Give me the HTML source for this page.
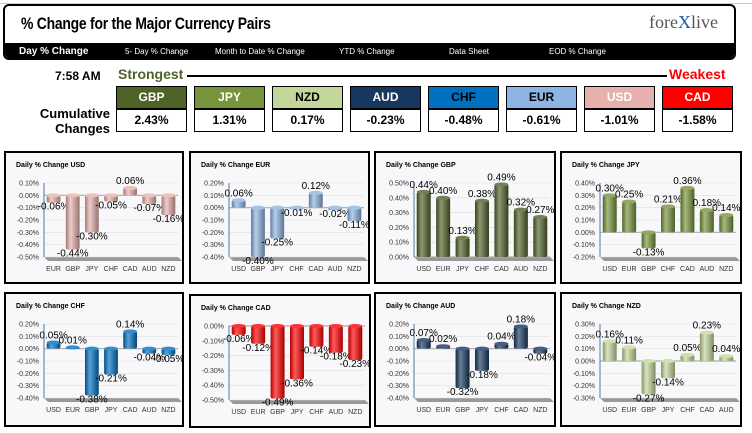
<!DOCTYPE html>
<html><head><meta charset="utf-8">
<style>
body{margin:0;width:752px;height:433px;background:#fff;position:relative;overflow:hidden;font-family:"Liberation Sans",sans-serif}
.abs{position:absolute}
.hdr{left:3px;top:4px;width:733px;height:56px;border:2px solid #000;border-radius:6px;box-sizing:border-box;overflow:hidden}
.title{left:16px;top:8px;font-weight:bold;font-size:17px;transform:scaleX(0.82);transform-origin:left;letter-spacing:-0.3px}
.bar{left:0;top:37px;width:100%;height:17px;background:#000;color:#fff;font-size:8px}
.bar span{position:absolute;top:4px}
.box{width:71px;height:23px;border:1px solid #000;box-sizing:border-box;text-align:center;font-weight:bold;font-size:12px;line-height:21px}
.val{background:#fff;color:#000}
.panel{border:2px solid #000;box-sizing:border-box;background:#f8f8fa}
</style></head><body>
<div class="abs" style="left:0;top:0;width:752px;height:3px;border-bottom:1px solid #ccc"></div>
<div class="abs hdr">
 <div class="abs title">% Change for the Major Currency Pairs</div>
 <div class="abs" style="left:644px;top:6px;font-family:'Liberation Serif',serif;font-size:18px;color:#555">fore<span style="color:#1a5fa0">X</span>live</div>
 <div class="abs bar">
  <span style="left:14px;top:3px;font-size:10px;font-weight:bold">Day % Change</span>
  <span style="left:120px">5- Day % Change</span>
  <span style="left:210px">Month to Date % Change</span>
  <span style="left:334px">YTD % Change</span>
  <span style="left:444px">Data Sheet</span>
  <span style="left:544px">EOD % Change</span>
 </div>
</div>
<div class="abs" style="left:55px;top:69px;font-weight:bold;font-size:12px">7:58 AM</div>
<div class="abs" style="left:118px;top:66px;font-weight:bold;font-size:14px;color:#4f6228">Strongest</div>
<div class="abs" style="left:187px;top:75px;width:480px;height:2px;background:#000"></div>
<div class="abs" style="left:669px;top:66px;font-weight:bold;font-size:14px;color:#f00">Weakest</div>
<div class="abs" style="left:28px;top:106px;font-weight:bold;font-size:13px;text-align:right;width:82px;line-height:15px">Cumulative Changes</div>
<div id="boxes"></div>
<div id="charts"></div>
<script>
const boxCur=["GBP","JPY","NZD","AUD","CHF","EUR","USD","CAD"];
const boxVal=["2.43%","1.31%","0.17%","-0.23%","-0.48%","-0.61%","-1.01%","-1.58%"];
const boxBg=["#4f6228","#77933c","#c4d79b","#17375e","#0070c0","#8db4e2","#e6b0ac","#ff0000"];
const boxFg=["#fff","#fff","#000","#fff","#000","#000","#fff","#fff"];
let bh="";
boxCur.forEach((c,i)=>{const x=116+i*78;
bh+=`<div class="abs box" style="left:${x}px;top:86px;background:${boxBg[i]};color:${boxFg[i]}">${c}</div>`;
bh+=`<div class="abs box val" style="left:${x}px;top:109px">${boxVal[i]}</div>`;});
document.getElementById('boxes').innerHTML=bh;

const names=["USD","EUR","GBP","JPY","CHF","CAD","AUD","NZD"];
const cats=[["EUR","GBP","JPY","CHF","CAD","AUD","NZD"],["USD","GBP","JPY","CHF","CAD","AUD","NZD"],["USD","EUR","JPY","CHF","CAD","AUD","NZD"],["USD","EUR","GBP","CHF","CAD","AUD","NZD"],["USD","EUR","GBP","JPY","CAD","AUD","NZD"],["USD","EUR","GBP","JPY","CHF","AUD","NZD"],["USD","EUR","GBP","JPY","CHF","CAD","NZD"],["USD","EUR","GBP","JPY","CHF","CAD","AUD"]];
const vals=[[-0.06,-0.44,-0.30,-0.05,0.06,-0.07,-0.16],[0.06,-0.40,-0.25,-0.01,0.12,-0.02,-0.11],[0.44,0.40,0.13,0.38,0.49,0.32,0.27],[0.30,0.25,-0.13,0.21,0.36,0.18,0.14],[0.05,0.01,-0.38,-0.21,0.14,-0.04,-0.05],[-0.06,-0.12,-0.49,-0.36,-0.14,-0.18,-0.23],[0.07,0.02,-0.32,-0.18,0.04,0.18,-0.04],[0.16,0.11,-0.27,-0.14,0.05,0.23,0.04]];
const axMin=[-0.5,-0.4,0,-0.2,-0.4,-0.5,-0.4,-0.3];
const axMax=[0.1,0.2,0.5,0.4,0.2,0,0.2,0.3];
const colors=["#e6b0ac","#8db4e2","#4f6228","#77933c","#0070c0","#ff0000","#17375e","#c4d79b"];
const panels=[[4,151,180,133],[189,151,181,133],[374,151,182,133],[560,151,182,133],[4,292,180,135],[189,294,182,134],[374,292,182,135],[560,292,182,135]];
function shade(h,f){let n=parseInt(h.slice(1),16),r=n>>16,g=(n>>8)&255,b=n&255;
 const m=v=>Math.round(f<0?v*(1+f):v+(255-v)*f);return `rgb(${m(r)},${m(g)},${m(b)})`;}
let out="";
names.forEach((nm,k)=>{
 const [px,py,pw,ph]=panels[k];
 const L=38,R=pw-8,T=30,B=104;
 const y=v=>T+(axMax[k]-v)/(axMax[k]-axMin[k])*(B-T);
 const n=cats[k].length, step=(R-L)/n, bw=step*0.72;
 let s=`<svg width="${pw-4}" height="${ph-4}" style="position:absolute;left:0;top:0">`;
 s+=`<defs><linearGradient id="g${k}" x1="0" x2="1"><stop offset="0" stop-color="${shade(colors[k],-0.3)}"/><stop offset="0.35" stop-color="${shade(colors[k],0.35)}"/><stop offset="1" stop-color="${shade(colors[k],-0.35)}"/></linearGradient></defs>`;
 s+=`<text x="10" y="14" font-size="7" font-weight="bold">Daily % Change ${nm}</text>`;
 s+=`<polygon points="${L},${B} ${R},${B} ${R+4},${B+4} ${L+4},${B+4}" fill="#999"/>`;
 for(let t=Math.round(axMin[k]*10);t<=Math.round(axMax[k]*10);t++){const v=t/10,yy=y(v);
  s+=`<line x1="${L}" x2="${R}" y1="${yy}" y2="${yy}" stroke="${v===0?'#aaa':'#ddd'}" stroke-width="${v===0?1.2:0.6}"/>`;
  s+=`<text x="${L-5}" y="${yy+2.5}" font-size="7" fill="#333" text-anchor="end">${v.toFixed(2)}%</text>`;}
 s+=`<line x1="${L}" x2="${L}" y1="${T}" y2="${B}" stroke="#4a7ab0" stroke-width="1"/>`;
 const y0=y(Math.max(axMin[k],Math.min(0,axMax[k])));
 vals[k].forEach((v,i)=>{const cx=L+step*(i+0.5),x=cx-bw/2,yv=y(v),top=Math.min(yv,y0),h=Math.max(Math.abs(yv-y0),1.5);
  s+=`<rect x="${x}" y="${top}" width="${bw}" height="${h}" rx="2" fill="url(#g${k})"/>`;
  s+=`<ellipse cx="${cx}" cy="${v>=0?yv:y0}" rx="${bw/2}" ry="2" fill="${shade(colors[k],0.2)}"/>`;
  const ly=v>=0?yv-4:yv+7;
  s+=`<text x="${cx}" y="${ly}" font-size="10" text-anchor="middle">${v.toFixed(2)}%</text>`;
  s+=`<text x="${cx}" y="${B+14}" font-size="7" fill="#333" text-anchor="middle">${cats[k][i]}</text>`;});
 s+=`</svg>`;
 out+=`<div class="abs panel" style="left:${px}px;top:${py}px;width:${pw}px;height:${ph}px">${s}</div>`;
});
document.getElementById('charts').innerHTML=out;
</script>
</body></html>
